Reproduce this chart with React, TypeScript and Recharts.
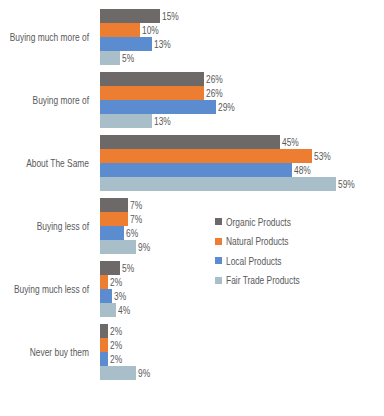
import { BarChart, Bar, XAxis, YAxis, LabelList } from 'recharts'

const categories = [
  'Buying much more of',
  'Buying more of',
  'About The Same',
  'Buying less of',
  'Buying much less of',
  'Never buy them',
]
const organic = [15, 26, 45, 7, 5, 2]
const natural = [10, 26, 53, 7, 2, 2]
const local = [13, 29, 48, 6, 3, 2]
const fairTrade = [5, 13, 59, 9, 4, 9]

const series = [
  { key: 'organic', name: 'Organic Products', color: '#6d6969' },
  { key: 'natural', name: 'Natural Products', color: '#ed7d31' },
  { key: 'local', name: 'Local Products', color: '#5b8cd0' },
  { key: 'fairTrade', name: 'Fair Trade Products', color: '#a8bfca' },
]

const data = categories.map((name, i) => ({
  name,
  organic: organic[i],
  natural: natural[i],
  local: local[i],
  fairTrade: fairTrade[i],
}))

// no condensed font installed, so squeeze Liberation Sans horizontally
const font = '"Liberation Sans", Arial, sans-serif'
const squeeze = 0.8
const textColor = '#595959'

const NarrowText = ({ x, y, anchor, children }: any) => (
  <text
    transform={`translate(${x} ${y}) scale(${squeeze} 1)`}
    textAnchor={anchor}
    dominantBaseline="central"
    style={{ fontFamily: font, fontSize: 10.5, fill: textColor }}
  >
    {children}
  </text>
)

const CategoryTick = ({ x, y, payload }: any) => (
  <NarrowText x={x} y={y} anchor="end">
    {payload.value}
  </NarrowText>
)

const ValueLabel = ({ x, y, width, height, value }: any) => (
  <NarrowText x={Number(x) + Number(width) + 2} y={Number(y) + Number(height) / 2} anchor="start">
    {`${value}%`}
  </NarrowText>
)

const App = () => {
  return (
    <div style={{ position: 'absolute', left: 0, top: 0, width: 384, height: 416 }}>
      <BarChart
        width={384}
        height={416}
        data={data}
        layout="vertical"
        barGap={0}
        barCategoryGap={3.5}
        margin={{ top: 5.5, right: 44, left: 0, bottom: 32.5 }}
      >
        <XAxis type="number" domain={[0, 60]} hide />
        <YAxis
          type="category"
          dataKey="name"
          width={100}
          axisLine={false}
          tickLine={false}
          tickSize={0}
          tickMargin={11}
          tick={<CategoryTick />}
        />
        {series.map((s) => (
          <Bar key={s.key} dataKey={s.key} name={s.name} fill={s.color} isAnimationActive={false}>
            <LabelList dataKey={s.key} content={<ValueLabel />} />
          </Bar>
        ))}
      </BarChart>
      <div
        style={{
          position: 'absolute',
          left: 215,
          top: 212,
          fontFamily: font,
          fontSize: 10.5,
          color: textColor,
        }}
      >
        {series.map((s) => (
          <div key={s.key} style={{ display: 'flex', alignItems: 'center', height: 19.5 }}>
            <span style={{ width: 7, height: 7, background: s.color, marginRight: 4 }} />
            <span
              style={{
                display: 'inline-block',
                whiteSpace: 'nowrap',
                transform: `scaleX(${squeeze})`,
                transformOrigin: 'left center',
              }}
            >
              {s.name}
            </span>
          </div>
        ))}
      </div>
    </div>
  )
}

export default App
